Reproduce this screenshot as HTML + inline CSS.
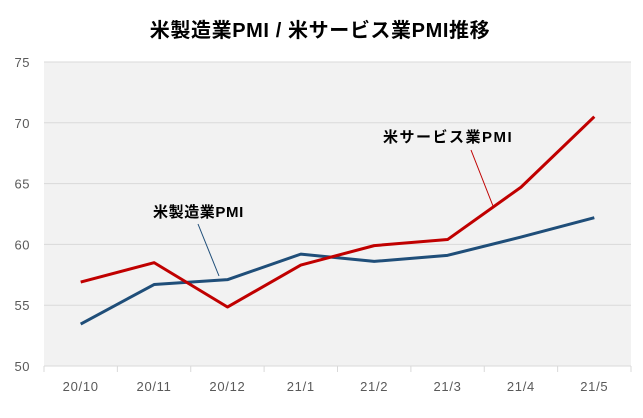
<!DOCTYPE html>
<html><head><meta charset="utf-8">
<style>
body{margin:0;background:#fff;}
svg{display:block;font-family:"Liberation Sans","Noto Sans CJK JP",sans-serif;}
</style></head>
<body>
<svg id="chart" width="643" height="418" viewBox="0 0 643 418">
<text x="320" y="37" text-anchor="middle" font-size="20" font-weight="bold" letter-spacing="0.6" fill="#000">米製造業PMI / 米サービス業PMI推移</text>
<rect x="44" y="62" width="587" height="304" fill="#f2f2f2"/>
<g id="grid"></g><g id="axes"></g><g id="series"></g>
<text x="153" y="217" font-size="15" font-weight="bold" letter-spacing="0.6" fill="#000">米製造業PMI</text>
<line x1="198" y1="224" x2="219" y2="276" stroke="#1f4e79" stroke-width="1"/>
<text x="383" y="142" font-size="15" font-weight="bold" letter-spacing="1.5" fill="#000">米サービス業PMI</text>
<line x1="471" y1="150" x2="493" y2="206" stroke="#c00000" stroke-width="1"/>
</svg>
<script>
const categories=["20/10","20/11","20/12","21/1","21/2","21/3","21/4","21/5"];
const manufacturing=[53.45,56.7,57.1,59.2,58.6,59.1,60.6,62.2];
const services=[56.9,58.5,54.85,58.3,59.9,60.4,64.7,70.5];
const yTicks=[50,55,60,65,70,75];
const NS="http://www.w3.org/2000/svg";
const L=44,R=631,T=62,B=366,yMin=50,yMax=75;
const bw=(R-L)/categories.length;
function x(i){return L+bw*(i+0.5);}
function y(v){return B-(v-yMin)/(yMax-yMin)*(B-T);}
function mk(tag,attrs,parent){const e=document.createElementNS(NS,tag);for(const k in attrs)e.setAttribute(k,attrs[k]);parent.appendChild(e);return e;}
const grid=document.getElementById('grid'),axes=document.getElementById('axes'),ser=document.getElementById('series');
yTicks.forEach(v=>{
  const g=mk('line',{x1:L,x2:R,y1:y(v),y2:y(v),stroke:'#d9d9d9','stroke-width':1},grid);
  
  
  const t=mk('text',{x:30,y:y(v)+5,'text-anchor':'end','font-size':13,'letter-spacing':0.5,fill:'#595959'},axes);
  t.textContent=v;
  
  
});
categories.forEach((c,i)=>{
  const tk=mk('line',{x1:L+bw*i,x2:L+bw*i,y1:B,y2:B+6,stroke:'#d9d9d9','stroke-width':1},axes);
  
  
  const t=mk('text',{x:x(i),y:B+25,'text-anchor':'middle','font-size':13,'letter-spacing':0.7,fill:'#595959'},axes);
  t.textContent=c;
  
  
});
const lt=mk('line',{x1:R,x2:R,y1:B,y2:B+6,stroke:'#d9d9d9','stroke-width':1},axes);


function line(vals,color,name){
  const p=mk('polyline',{points:vals.map((v,i)=>x(i)+','+y(v)).join(' '),fill:'none',stroke:color,'stroke-width':3,'stroke-linejoin':'round'},ser);
  
  
}
line(manufacturing,'#1f4e79','line-manufacturing');
line(services,'#c00000','line-services');
</script>
</body></html>
